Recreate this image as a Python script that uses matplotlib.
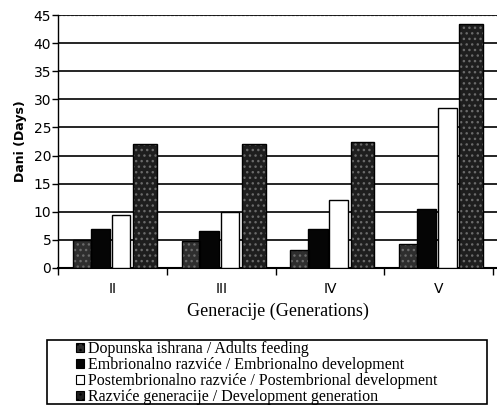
import matplotlib
matplotlib.use("Agg")
import matplotlib.pyplot as plt
import numpy as np
from matplotlib.patches import Rectangle, Patch

generations = ["II", "III", "IV", "V"]
series_names = [
    "Dopunska ishrana / Adults feeding",
    "Embrionalno razviće / Embrionalno development",
    "Postembrionalno razviće / Postembrional development",
    "Razviće generacije / Development generation",
]
adults_feeding = [5, 4.8, 3.2, 4.2]
embrional = [7, 6.5, 7, 10.5]
postembrional = [9.5, 10, 12, 28.5]
development = [22, 22, 22.5, 43.5]
values = [adults_feeding, embrional, postembrional, development]

face = ["#2e2e2e", "#050505", "#ffffff", "#1e1e1e"]
hatches = ["...", None, None, "..."]

fig = plt.figure(figsize=(4.97, 4.09), dpi=100)
ax = fig.add_axes([0.117, 0.345, 0.883, 0.618])

x = np.arange(len(generations))
widths = [0.17, 0.18, 0.17, 0.22]
offsets = [-0.28, -0.11, 0.08, 0.30]
for i in range(4):
    xs = x + offsets[i]
    if hatches[i]:
        ax.bar(xs, values[i], widths[i], color=face[i], hatch=hatches[i],
               edgecolor="#6a6a6a", linewidth=0, zorder=3)
        ax.bar(xs, values[i], widths[i], fill=False, edgecolor="black",
               linewidth=1.0, zorder=4)
    else:
        ax.bar(xs, values[i], widths[i], color=face[i], edgecolor="black",
               linewidth=1.0, zorder=3)

ax.set_ylim(0, 45)
ax.set_xlim(-0.5, 3.537)
ax.set_yticks(np.arange(0, 46, 5))
ax.yaxis.grid(True, color="black", linewidth=1.2, zorder=0)
ax.set_xticks(x)
ax.set_xticklabels(generations, fontsize=10, family="DejaVu Sans")
ax.set_xticks(np.arange(-0.5, 3.6, 1), minor=True)
ax.tick_params(axis="x", which="major", length=0, pad=10)
ax.tick_params(axis="x", which="minor", length=5, width=1, direction="out")
ax.tick_params(axis="y", length=4, width=1, labelsize=10, pad=1)
for lab in ax.get_yticklabels():
    lab.set_family("DejaVu Sans")

for side in ["top", "right"]:
    ax.spines[side].set_visible(False)
ax.spines["left"].set_linewidth(1.0)
ax.spines["bottom"].set_linewidth(1.5)
ax.axhline(45, color="#999999", linewidth=1, linestyle=(0, (2, 1)), zorder=1)

ax.set_ylabel("Dani (Days)", fontsize=9, fontweight="bold", family="DejaVu Sans", labelpad=5)
ax.set_xlabel("Generacije (Generations)", fontsize=13, family="Liberation Serif", labelpad=5)

fig.patches.append(Rectangle((0.095, 0.012), 0.885, 0.157, transform=fig.transFigure,
                             fill=False, edgecolor="black", linewidth=1.2))
handles = [Patch(facecolor=face[i], edgecolor="black", hatch=hatches[i], linewidth=0.8)
           for i in range(4)]
fig.legend(handles, series_names, loc="upper left", bbox_to_anchor=(0.152, 0.166),
           frameon=False, prop={"family": "Liberation Serif", "size": 11.5},
           handlelength=0.5, handleheight=0.5, handletextpad=0.25, labelspacing=0.0,
           borderpad=0.0, borderaxespad=0.0)

fig.savefig("out.png", dpi=100)
